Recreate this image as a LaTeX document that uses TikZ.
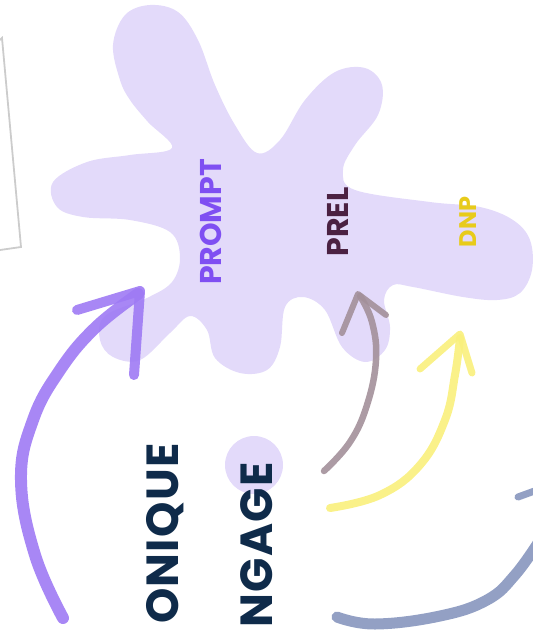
\documentclass[tikz,border=0pt]{standalone}
\usepackage{fontspec}
\setmainfont{Poppins}
\usepackage{xcolor}
\usepackage{tikz}
\usetikzlibrary{calc}
\definecolor{blob}{HTML}{E3DAFA}
\definecolor{promptc}{HTML}{7F4FF2}
\definecolor{prelc}{HTML}{4B2142}
\definecolor{dnpc}{HTML}{E8CB1A}
\definecolor{navy}{HTML}{0F2B4A}
\definecolor{arrpurple}{HTML}{9E7AF4}
\definecolor{arrmauve}{HTML}{A3909A}
\definecolor{arryellow}{HTML}{F9F07C}
\definecolor{arrblue}{HTML}{8796BE}
\tikzset{
  label/.style={rotate=90, inner sep=0pt, font=\bfseries, anchor=base},
  bigword/.style={rotate=90, inner sep=0pt, font=\bfseries\fontsize{45}{45}\selectfont\addfontfeatures{LetterSpace=3}, text=navy, anchor=base east},
  stroke/.style={line cap=round, line join=round, opacity=0.9},
}

\begin{document}
\begin{tikzpicture}[x=1pt, y=-1pt]
  \useasboundingbox (0,0) rectangle (533,630);
  \clip (0,0) rectangle (533,630);

  % sheet edge at the left
  \draw[gray!40, line width=1.8pt] (0,40) -- (2,38) -- (21,247) -- (0,250);

  % blob
  \fill[blob] plot[smooth cycle, tension=0.6] coordinates {
    (120,80) (113,45) (125,15) (150,5) (178,12) (198,40) (215,85) (235,125)
    (257,153) (280,140) (305,100) (335,72) (365,68) (382,85) (378,115)
    (355,145) (343,170) (355,190) (430,202) (480,207) (513,220) (530,240)
    (532,270) (520,293) (497,300) (463,297) (413,287) (393,285) (384,300)
    (390,327) (385,350) (365,362) (342,347) (325,310) (303,297) (285,307)
    (280,347) (267,370) (240,373) (215,358) (207,330) (190,316) (170,333)
    (140,360) (113,357) (100,340) (105,316) (147,298) (172,282) (180,257)
    (170,232) (130,220) (83,217) (57,207) (53,182) (87,162) (130,155)
    (172,148) (148,122) (130,100)};

  % small dot
  \fill[blob] (254,465) circle (29);

  % labels in the blob
  \node[label, text=promptc, font=\bfseries\fontsize{30}{30}\selectfont] (prompt) at (221,222) {PROMPT};
  \node[label, text=prelc, font=\bfseries\fontsize{30}{30}\selectfont] (prel) at (348,222) {PREL};
  \node[label, text=dnpc, font=\bfseries\fontsize{24}{24}\selectfont] (dnp) at (476,222) {DNP};

  % words at the bottom
  \node[bigword] (onique) at (178,443) {ONIQUE};
  \node[bigword] (ngage) at (272,462) {NGAGE};

  % arrows
  \draw[stroke, arrpurple, line width=12pt] plot[smooth, tension=0.7] coordinates {
    (63,618) (35,555) (21,480) (33,420) (60,370) (95,328) (138,294)};
  \draw[stroke, arrpurple, line width=10pt] (77,310) -- (140,291) -- (134,375);

  \draw[stroke, arrmauve, line width=6.5pt] plot[smooth, tension=0.7] coordinates {
    (324,471) (350,442) (367,405) (376,360) (372,322) (360,296)};
  \draw[stroke, arrmauve, line width=6pt] (342,333) -- (358,294) -- (386,315);

  \draw[stroke, arryellow, line width=8pt] plot[smooth, tension=0.7] coordinates {
    (330,508) (380,495) (420,465) (445,420) (455,375) (460,338)};
  \draw[stroke, arryellow, line width=7pt] (420,369) -- (460,334) -- (472,373);

  \draw[stroke, arrblue, line width=11pt] plot[smooth, tension=0.7] coordinates {
    (337,617) (375,624) (440,616) (487,600) (515,575) (540,540)};
  \draw[stroke, arrblue, line width=7pt] (518,497) -- (540,489);
\end{tikzpicture}
\end{document}
